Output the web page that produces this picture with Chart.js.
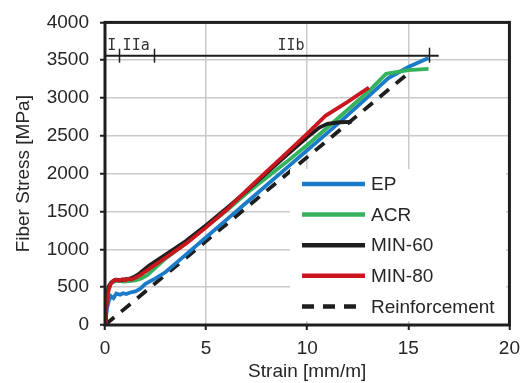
<!DOCTYPE html>
<html>
<head>
<meta charset="utf-8">
<script src="https://cdn.jsdelivr.net/npm/chart.js@4.4.0/dist/chart.umd.min.js"></script>
<style>
  html, body { margin: 0; padding: 0; background: #fff; }
  #wrap { width: 527px; height: 383px; }
</style>
</head>
<body>
<div id="wrap"><canvas id="chart" width="527" height="383"></canvas></div>
<script>
// --- measured curves: strain [mm/m] vs fiber stress [MPa] ---
const epStrain = [0, 0.1, 0.2, 0.3, 0.42, 0.56, 0.75, 0.9, 1.05, 1.25, 1.5, 1.75, 2.0, 2.5, 3, 4, 5, 6, 7, 8, 9, 10, 11, 12, 13, 14, 15, 16];
const epStress = [0, 220, 330, 380, 355, 415, 400, 420, 410, 430, 445, 480, 545, 615, 700, 930, 1160, 1390, 1620, 1850, 2080, 2310, 2540, 2775, 3015, 3260, 3410, 3530];

const acrStrain = [0, 0.04, 0.1, 0.2, 0.35, 0.5, 0.7, 0.9, 1.2, 1.5, 1.8, 2.1, 2.5, 3, 4, 5, 6, 7, 8, 9, 10, 11, 12, 13, 13.9, 15, 16];
const acrStress = [0, 220, 420, 520, 565, 580, 585, 575, 580, 590, 615, 660, 760, 880, 1080, 1300, 1510, 1740, 1950, 2160, 2380, 2610, 2845, 3080, 3320, 3370, 3385];

const min60Strain = [0, 0.04, 0.1, 0.18, 0.3, 0.45, 0.6, 0.8, 1.0, 1.2, 1.4, 1.7, 2.2, 3, 4, 5, 6, 7, 8, 9, 10, 10.6, 11, 11.6, 12.2];
const min60Stress = [0, 180, 380, 500, 560, 590, 595, 590, 605, 610, 630, 680, 790, 930, 1110, 1320, 1540, 1770, 2010, 2250, 2480, 2610, 2660, 2680, 2685];

const min80Strain = [0, 0.04, 0.1, 0.18, 0.28, 0.4, 0.55, 0.7, 0.85, 1.0, 1.15, 1.3, 1.5, 1.8, 2.2, 3, 4, 5, 6, 7, 8, 9, 10, 10.9, 12, 13.05];
const min80Stress = [0, 150, 330, 460, 540, 580, 600, 585, 605, 590, 610, 600, 625, 670, 745, 890, 1075, 1290, 1520, 1780, 2030, 2280, 2530, 2765, 2950, 3140];

const reinfStrain = [0, 15.1];
const reinfStress = [0, 3350];

// --- stage bar along the top ---
const stageBounds = [0, 0.68, 2.4, 16.0];
const stageLabels = ['I', 'IIa', 'IIb'];
const stageLevel = 3560;
const stageLineEnd = 16.5;

const xTicks = [0, 5, 10, 15, 20];
const yTicks = [0, 500, 1000, 1500, 2000, 2500, 3000, 3500, 4000];

const pts = (xs, ys) => xs.map((v, i) => ({ x: v, y: ys[i] }));

const series = [
  { label: 'EP', color: '#1b7bc8', data: pts(epStrain, epStress), order: 3 },
  { label: 'ACR', color: '#34b35c', data: pts(acrStrain, acrStress), order: 2 },
  { label: 'MIN-60', color: '#1e1e1e', data: pts(min60Strain, min60Stress), order: 1 },
  { label: 'MIN-80', color: '#c8171f', data: pts(min80Strain, min80Stress), order: 0 },
  { label: 'Reinforcement', color: '#1e1e1e', data: pts(reinfStrain, reinfStress), order: 4, dash: [12, 9] }
];

const textColor = '#262626';
const fontFam = '"Liberation Sans", Arial, sans-serif';

// stage bar, legend panel and the closed frame
const overlay = {
  id: 'overlay',
  afterDatasetsDraw(chart) {
    const { ctx, scales: { x, y } } = chart;
    ctx.save();
    // stages
    const ly = y.getPixelForValue(stageLevel);
    ctx.strokeStyle = '#1e1e1e';
    ctx.lineWidth = 2;
    ctx.beginPath();
    ctx.moveTo(x.getPixelForValue(0), ly);
    ctx.lineTo(x.getPixelForValue(stageLineEnd), ly);
    ctx.stroke();
    ctx.lineWidth = 1.5;
    stageBounds.slice(1).forEach((b, i) => {
      const px = Math.round(x.getPixelForValue(b)) + 0.5;
      const last = i === stageBounds.length - 2;
      ctx.beginPath();
      ctx.moveTo(px, ly - (last ? 8 : 7));
      ctx.lineTo(px, ly + 7);
      ctx.stroke();
    });
    ctx.fillStyle = '#333';
    ctx.font = '15px "DejaVu Sans Mono", monospace';
    ctx.textAlign = 'center';
    ctx.textBaseline = 'alphabetic';
    stageLabels.forEach((t, i) => {
      const mid = (stageBounds[i] + stageBounds[i + 1]) / 2;
      ctx.fillText(t, x.getPixelForValue(mid), ly - 6);
    });

    // legend panel
    ctx.fillStyle = '#fff';
    ctx.fillRect(290, 169, 216, 152);
    ctx.font = '19px ' + fontFam;
    ctx.textAlign = 'left';
    ctx.textBaseline = 'middle';
    chart.data.datasets.forEach((ds, i) => {
      const ry = 184 + i * 30.6;
      ctx.strokeStyle = ds.borderColor;
      ctx.lineWidth = 4.5;
      ctx.setLineDash(ds.borderDash || []);
      ctx.beginPath();
      ctx.moveTo(302, ry);
      ctx.lineTo(365, ry);
      ctx.stroke();
      ctx.setLineDash([]);
      ctx.fillStyle = textColor;
      ctx.fillText(ds.label, 371, ry + 1);
    });
    ctx.restore();
  },
  afterDraw(chart) {
    const { ctx, chartArea: a } = chart;
    ctx.save();
    ctx.strokeStyle = '#1e1e1e';
    ctx.lineWidth = 3;
    ctx.strokeRect(a.left, a.top, a.right - a.left, a.bottom - a.top);
    ctx.restore();
  }
};

new Chart(document.getElementById('chart'), {
  type: 'line',
  data: {
    datasets: series.map(s => ({
      label: s.label,
      data: s.data,
      borderColor: s.color,
      backgroundColor: s.color,
      borderWidth: 3.8,
      borderDash: s.dash || [],
      pointRadius: 0,
      tension: 0,
      fill: false,
      order: s.order
    }))
  },
  options: {
    responsive: false,
    animation: false,
    devicePixelRatio: 1,
    layout: { padding: { left: 0, top: 18, right: 16, bottom: 0 } },
    plugins: { legend: { display: false }, tooltip: { enabled: false } },
    scales: {
      x: {
        type: 'linear',
        min: 0, max: 20,
        afterBuildTicks: s => { s.ticks = xTicks.map(v => ({ value: v })); },
        afterFit: s => { s.height = 58; },
        grid: { color: '#cacaca', lineWidth: 1.5, tickColor: '#1e1e1e', tickWidth: 2, tickLength: 5 },
        border: { display: false },
        ticks: { color: textColor, font: { family: fontFam, size: 19 }, padding: 7, maxRotation: 0, callback: v => String(v) },
        title: { display: true, text: 'Strain [mm/m]', color: textColor, font: { family: fontFam, size: 19 }, padding: { top: 0, bottom: 0 } }
      },
      y: {
        type: 'linear',
        min: 0, max: 4000,
        afterBuildTicks: s => { s.ticks = yTicks.map(v => ({ value: v })); },
        afterFit: s => { s.width = 105; },
        grid: { color: '#cacaca', lineWidth: 1.5, tickColor: '#1e1e1e', tickWidth: 2, tickLength: 5 },
        border: { display: false },
        ticks: { color: textColor, font: { family: fontFam, size: 19 }, padding: 11, callback: v => String(v) },
        title: { display: true, text: 'Fiber Stress [MPa]', color: textColor, font: { family: fontFam, size: 19 }, padding: { top: 12.5, bottom: 0 } }
      }
    }
  },
  plugins: [overlay]
});
</script>
</body>
</html>
